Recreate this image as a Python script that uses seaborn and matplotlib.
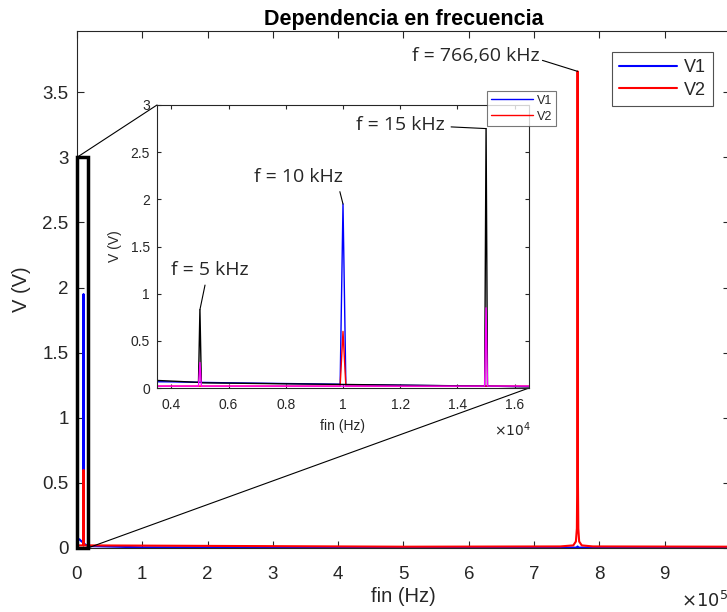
import numpy as np
import pandas as pd
import matplotlib
matplotlib.use("Agg")
import matplotlib.pyplot as plt
import seaborn as sns
from matplotlib.ticker import FuncFormatter, MultipleLocator
from matplotlib.patches import Rectangle, ConnectionPatch

sns.set_theme(style="white")
plt.rcParams['font.family'] = ['Liberation Sans', 'DejaVu Sans']

# ---- data (Hz, V) ----
# V1 full sweep (blue)
v1_f = [0, 2000, 4000, 6000, 9900, 10000, 10100, 16500, 100000, 500000, 765000, 766600, 768000, 1000000]
v1_v = [0.08, 0.07, 0.065, 0.055, 0.04, 1.95, 0.035, 0.015, 0.005, 0.002, 0.003, 0.012, 0.003, 0.001]
# V2 full sweep (red)
v2_f = [0, 9900, 10000, 10100, 16500, 500000, 740000, 760000, 764000, 765500, 766200, 766600,
        767000, 767700, 769000, 773000, 790000, 1000000]
v2_v = [0.02, 0.02, 0.60, 0.02, 0.02, 0.01, 0.012, 0.02, 0.05, 0.15, 0.6, 3.66,
        0.6, 0.15, 0.05, 0.02, 0.012, 0.01]
# V1 detail sweep at 5 kHz and 15 kHz (black)
v1d_f = [3500, 4950, 5000, 5050, 14950, 15000, 15050, 16500]
v1d_v = [0.08, 0.06, 0.83, 0.055, 0.02, 2.75, 0.02, 0.012]
# V2 detail sweep at 5 kHz and 15 kHz (magenta)
v2d_f = [3500, 4950, 5000, 5050, 14950, 15000, 15050, 16500]
v2d_v = [0.02, 0.02, 0.27, 0.02, 0.02, 0.85, 0.02, 0.02]

main_xticks = [0, 1, 2, 3, 4, 5, 6, 7, 8, 9]
inset_xticks = [0.4, 0.6, 0.8, 1.0, 1.2, 1.4, 1.6]

df_v1 = pd.DataFrame({"f": v1_f, "V": v1_v})
df_v2 = pd.DataFrame({"f": v2_f, "V": v2_v})
df_v1d = pd.DataFrame({"f": v1d_f, "V": v1d_v})
df_v2d = pd.DataFrame({"f": v2d_f, "V": v2d_v})

fig = plt.figure(figsize=(7.27, 6.12), dpi=100)
W, H = 727, 612

def box(l, t, r, b):
    return [l / W, 1 - b / H, (r - l) / W, (b - t) / H]

axc = '#262626'

def style(ax, fs, xpad, ypad, length):
    for s in ax.spines.values():
        s.set_color(axc)
        s.set_linewidth(0.8)
    ax.tick_params(direction='in', top=True, right=True, colors=axc, labelcolor=axc,
                   labelsize=fs, length=length, width=0.8, bottom=True, left=True)
    ax.tick_params(axis='x', pad=xpad)
    ax.tick_params(axis='y', pad=ypad)

# ---- main axes ----
ax = fig.add_axes(box(77, 31, 730, 548))
sns.lineplot(data=df_v1, x="f", y="V", ax=ax, color='blue', lw=1.5, estimator=None, sort=False, label='V1')
sns.lineplot(data=df_v2, x="f", y="V", ax=ax, color='red', lw=1.5, estimator=None, sort=False, label='V2')
ax.set_xlim(0, 1e6)
ax.set_ylim(0, 3.97)
ax.set_xticks([t * 1e5 for t in main_xticks])
ax.xaxis.set_major_formatter(FuncFormatter(lambda v, p: f"{v/1e5:g}"))
ax.yaxis.set_major_locator(MultipleLocator(0.5))
ax.yaxis.set_major_formatter(FuncFormatter(lambda v, p: f"{v:g}"))
style(ax, 13.5, 13, 6, 5)
ax.set_xlabel("fin (Hz)", fontsize=14.5, color=axc, labelpad=3)
ax.set_ylabel("V (V)", fontsize=14.5, color=axc, labelpad=8)
ax.set_title("Dependencia en frecuencia", fontsize=15.5, fontweight='bold', color='black', pad=4)
leg = ax.legend(loc='upper left', bbox_to_anchor=((612 - 77) / 653, (548 - 52) / 517),
                fontsize=13, frameon=True, fancybox=False, handlelength=3.2,
                borderaxespad=0, handletextpad=0.4, borderpad=0.4, labelspacing=0.3)
leg.get_frame().set_edgecolor(axc)
leg.get_frame().set_linewidth(0.8)
fig.text(681 / W, 1 - 601 / H, r"$\times10^5$", fontsize=13, color=axc, ha='left', va='center')

ax.annotate("f = 766,60 kHz", xy=(766600, 3.66), xytext=(610000, 3.78),
            ha='center', va='center', fontsize=14, family='Open Sans',
            arrowprops=dict(arrowstyle='-', color='black', lw=0.8, shrinkA=0, shrinkB=0,
                            relpos=(1.0, 0.3)))

# zoom rectangle
rect = Rectangle((0, 0), 16500, 3.0, fill=False, edgecolor='black', lw=2.5, zorder=5, clip_on=False)
ax.add_patch(rect)

# ---- inset ----
axi = fig.add_axes(box(157, 105, 529, 388))
sns.lineplot(data=df_v1, x="f", y="V", ax=axi, color='blue', lw=1.0, estimator=None, sort=False, label='V1')
sns.lineplot(data=df_v2, x="f", y="V", ax=axi, color='red', lw=1.0, estimator=None, sort=False, label='V2')
sns.lineplot(data=df_v1d, x="f", y="V", ax=axi, color='black', lw=1.0, estimator=None, sort=False)
sns.lineplot(data=df_v2d, x="f", y="V", ax=axi, color='magenta', lw=1.0, estimator=None, sort=False)
axi.set_xlim(3500, 16500)
axi.set_ylim(0, 3)
axi.set_xticks([t * 1e4 for t in inset_xticks])
axi.xaxis.set_major_formatter(FuncFormatter(lambda v, p: f"{v/1e4:g}"))
axi.yaxis.set_major_locator(MultipleLocator(0.5))
axi.yaxis.set_major_formatter(FuncFormatter(lambda v, p: f"{v:g}"))
style(axi, 10, 7, 5, 3)
axi.set_xlabel("fin (Hz)", fontsize=10, color=axc, labelpad=5)
axi.set_ylabel("V (V)", fontsize=10, color=axc, labelpad=6)
legi = axi.legend(loc='upper left', bbox_to_anchor=((487 - 157) / 372, (388 - 91) / 283),
                  fontsize=9, frameon=True, fancybox=False, handlelength=3.4,
                  borderaxespad=0, handletextpad=0.3, borderpad=0.3, labelspacing=0.3)
legi.get_frame().set_edgecolor('#555555')
legi.get_frame().set_linewidth(0.8)
fig.text(494 / W, 1 - 430 / H, r"$\times10^4$", fontsize=10, color=axc, ha='left', va='center')

for txt, xy, xyt, rp in [("f = 5 kHz", (5000, 0.83), (5357, 1.25), (0.45, 0.0)),
                         ("f = 10 kHz", (10000, 1.95), (8440, 2.24), (0.95, 0.0)),
                         ("f = 15 kHz", (15000, 2.75), (12015, 2.79), (1.0, 0.4))]:
    axi.annotate(txt, xy=xy, xytext=xyt, ha='center', va='center', fontsize=14,
                 family='Open Sans',
                 arrowprops=dict(arrowstyle='-', color='black', lw=0.8, shrinkA=2, shrinkB=0,
                                 relpos=rp))

# connector lines between zoom box and inset
for (xa, ya), (xb, yb) in [((0, 3.0), (0, 1)), ((16500, 0), (1, 0))]:
    cp = ConnectionPatch(xyA=(xa, ya), coordsA=ax.transData, xyB=(xb, yb), coordsB=axi.transAxes,
                         color='black', lw=0.8, zorder=1)
    fig.add_artist(cp)
axi.set_zorder(3)

fig.savefig("out.png", dpi=100)
